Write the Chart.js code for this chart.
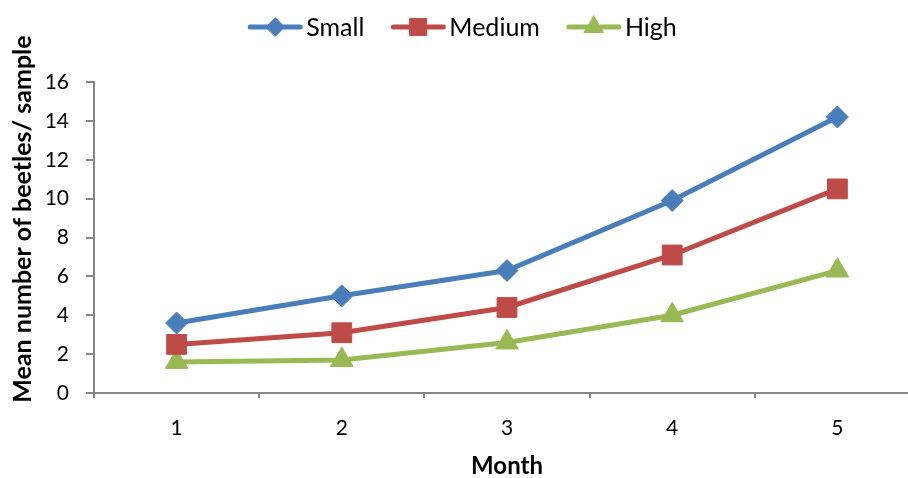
<!DOCTYPE html>
<html>
<head>
<meta charset="utf-8">
<script src="https://cdn.jsdelivr.net/npm/chart.js@4.4.0/dist/chart.umd.min.js"></script>
<style>
  html, body { margin: 0; padding: 0; overflow: hidden; background: #fff; }
</style>
</head>
<body>
<canvas id="myChart" width="935" height="478"></canvas>
<script>
const months = ["1", "2", "3", "4", "5"];
const smallValues = [3.6, 5.0, 6.3, 9.9, 14.2];
const mediumValues = [2.5, 3.1, 4.4, 7.1, 10.5];
const highValues = [1.6, 1.7, 2.6, 4.0, 6.3];
const seriesNames = ["Small", "Medium", "High"];
const yTicks = [0, 2, 4, 6, 8, 10, 12, 14, 16];
const yTitle = "Mean number of beetles/ sample";
const xTitle = "Month";

const FONT = "Lato";
const AXIS_GREY = "#868686";

// legend (line + marker + text) and the y title, drawn Excel style
const extrasPlugin = {
  id: "extras",
  afterDraw(chart) {
    const ctx = chart.ctx;
    ctx.save();

    ctx.font = "25px " + FONT;
    const lineLen = 56, gapText = 3, gapItem = 26;
    const items = chart.data.datasets.map(ds => ({
      ds: ds,
      w: lineLen + gapText + ctx.measureText(ds.label).width
    }));
    const total = items.reduce((a, b) => a + b.w, 0) + gapItem * (items.length - 1);
    let x = 462 - total / 2;
    const y = 27;
    items.forEach(it => {
      const ds = it.ds;
      ctx.strokeStyle = ds.borderColor;
      ctx.lineWidth = 5;
      ctx.lineCap = "round";
      ctx.beginPath();
      ctx.moveTo(x + 3, y);
      ctx.lineTo(x + lineLen - 3, y);
      ctx.stroke();
      ctx.fillStyle = ds.borderColor;
      ctx.lineWidth = 1;
      Chart.helpers.drawPoint(ctx, {
        pointStyle: ds.pointStyle,
        radius: ds.pointRadius * 0.85,
        rotation: 0,
        borderWidth: 1
      }, x + lineLen / 2, y);
      ctx.fillStyle = "#000";
      ctx.textAlign = "left";
      ctx.textBaseline = "middle";
      ctx.fillText(ds.label, x + lineLen + gapText, y + 1);
      x += it.w + gapItem;
    });

    ctx.translate(23, 219);
    ctx.rotate(-Math.PI / 2);
    ctx.font = "bold 25px " + FONT;
    ctx.fillStyle = "#000";
    ctx.textAlign = "center";
    ctx.textBaseline = "middle";
    ctx.fillText(yTitle, 0, 0);
    ctx.restore();
  }
};

const colors = ["#4A7EBB", "#BE4B48", "#98B954"];
const styles = ["rectRot", "rect", "triangle"];
const radii = [11, 14, 13];
const values = [smallValues, mediumValues, highValues];

const datasets = seriesNames.map((name, i) => ({
  label: name,
  data: values[i],
  borderColor: colors[i],
  backgroundColor: colors[i],
  pointBackgroundColor: colors[i],
  pointBorderColor: colors[i],
  pointBorderWidth: 1,
  pointStyle: styles[i],
  pointRadius: radii[i],
  pointHoverRadius: radii[i],
  borderWidth: 5,
  tension: 0
}));

let myChart = document.getElementById("myChart").getContext("2d");
let beetleChart = new Chart(myChart, {
  type: "line",
  data: { labels: months, datasets: datasets },
  options: {
    responsive: false,
    animation: false,
    layout: { padding: { top: 82, left: 0, right: 0, bottom: 0 } },
    plugins: {
      legend: { display: false },
      tooltip: { enabled: false }
    },
    scales: {
      x: {
        type: "category",
        offset: true,
        grid: {
          offset: true,
          drawOnChartArea: false,
          drawTicks: true,
          tickLength: 5,
          color: AXIS_GREY,
          lineWidth: 2
        },
        border: { color: AXIS_GREY, width: 2 },
        ticks: {
          color: "#000",
          font: { family: FONT, size: 21 },
          padding: 18
        },
        title: {
          display: true,
          text: xTitle,
          color: "#000",
          font: { family: FONT, size: 24, weight: "bold", lineHeight: 1 },
          padding: { top: 0, bottom: 0 }
        },
        afterFit: s => { s.height = 85; }
      },
      y: {
        min: 0,
        max: 16,
        afterBuildTicks: s => { s.ticks = yTicks.map(v => ({ value: v })); },
        grid: {
          drawOnChartArea: false,
          drawTicks: true,
          tickLength: 8,
          color: AXIS_GREY,
          lineWidth: 2
        },
        border: { color: AXIS_GREY, width: 2 },
        ticks: {
          color: "#000",
          font: { family: FONT, size: 21 },
          padding: 17
        },
        afterFit: s => { s.width = 94; }
      }
    }
  },
  plugins: [extrasPlugin]
});
</script>
</body>
</html>
